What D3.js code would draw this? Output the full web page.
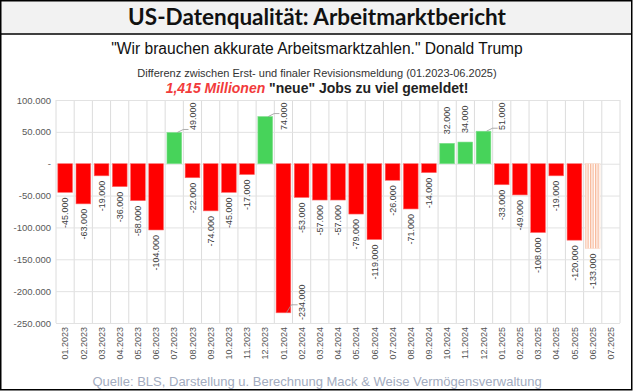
<!DOCTYPE html>
<html>
<head>
<meta charset="utf-8">
<script src="https://cdn.jsdelivr.net/npm/d3@7"></script>
<style>
  body { margin: 0; background: #fff; }
  svg text { font-family: "Liberation Sans", Arial, sans-serif; }
</style>
</head>
<body>
<div id="chart"></div>
<script>
// months (x axis)
var months = ["01.2023", "02.2023", "03.2023", "04.2023", "05.2023", "06.2023", "07.2023", "08.2023",
    "09.2023", "10.2023", "11.2023", "12.2023", "01.2024", "02.2024", "03.2024", "04.2024",
    "05.2024", "06.2024", "07.2024", "08.2024", "09.2024", "10.2024", "11.2024", "12.2024",
    "01.2025", "02.2025", "03.2025", "04.2025", "05.2025", "06.2025", "07.2025"];
// revision difference (jobs), null = no value yet
var revisions = [-45000, -63000, -19000, -36000, -58000, -104000, 49000, -22000,
    -74000, -45000, -17000, 74000, -234000, -53000, -57000, -57000,
    -79000, -119000, -26000, -71000, -14000, 32000, 34000, 51000,
    -33000, -49000, -108000, -19000, -120000, -133000, null];
// preliminary month (hatched)
var preliminary = ["06.2025"];
var yTicks = [100000, 50000, 0, -50000, -100000, -150000, -200000, -250000];

var W = 634, H = 392;
// german number format, plain hyphen as minus
var de = d3.formatLocale({ decimal: ",", thousands: ".", grouping: [3], currency: ["", ""], minus: "-" });
var fmt = function (v) {
    if (v === 0) return "-";
    return de.format(",")(v);
};

var svg = d3.select("#chart").append("svg")
    .attr("width", W)
    .attr("height", H);

// hatch pattern for the preliminary bar
var defs = svg.append("defs");
var pat = defs.append("pattern")
    .attr("id", "hatch")
    .attr("patternUnits", "userSpaceOnUse")
    .attr("width", 2.5)
    .attr("height", 4);
pat.append("rect").attr("width", 2.5).attr("height", 4).attr("fill", "#fff");
pat.append("rect").attr("width", 1.3).attr("height", 4).attr("fill", "#f8b99a");

// title band
svg.append("rect")
    .attr("x", 0.75).attr("y", 0.75)
    .attr("width", W - 3).attr("height", 33)
    .attr("fill", "#f2f2f2");
svg.append("text")
    .attr("x", 317).attr("y", 25)
    .attr("text-anchor", "middle")
    .style("font-family", "Lato, 'Open Sans', sans-serif")
    .style("font-weight", "bold")
    .style("font-size", "22.5px")
    .attr("fill", "#111")
    .text("US-Datenqualität: Arbeitmarktbericht");
svg.append("line")
    .attr("x1", 0).attr("x2", W - 2)
    .attr("y1", 34).attr("y2", 34)
    .attr("stroke", "#000").attr("stroke-width", 1.5);

// outer frame
svg.append("rect")
    .attr("x", 0.75).attr("y", 0.75)
    .attr("width", W - 3).attr("height", H - 3)
    .attr("fill", "none")
    .attr("stroke", "#000").attr("stroke-width", 1.5);

// headings
svg.append("text")
    .attr("x", 317).attr("y", 54)
    .attr("text-anchor", "middle")
    .style("font-size", "15.6px")
    .attr("fill", "#111")
    .text("\"Wir brauchen akkurate Arbeitsmarktzahlen.\" Donald Trump");
svg.append("text")
    .attr("x", 317).attr("y", 77)
    .attr("text-anchor", "middle")
    .style("font-size", "11px")
    .attr("fill", "#333")
    .text("Differenz zwischen Erst- und finaler Revisionsmeldung (01.2023-06.2025)");
var sub = svg.append("text")
    .attr("x", 317).attr("y", 93)
    .attr("text-anchor", "middle")
    .style("font-size", "14px")
    .style("font-weight", "bold");
sub.append("tspan").attr("fill", "#f23b3b").style("font-style", "italic").text("1,415 Millionen");
sub.append("tspan").attr("fill", "#222").text(" \"neue\" Jobs zu viel gemeldet!");

// scales
var x = d3.scaleBand().domain(months).range([56, 620]).paddingInner(0.19).paddingOuter(0.1);
var y = d3.scaleLinear().domain([-250000, 100000]).range([323, 100]);
var step = x.step();
var left = 56, right = 620;

// vertical grid lines (category borders)
svg.append("g").selectAll("line")
    .data(d3.range(months.length + 1))
    .join("line")
    .attr("x1", function (i) { return left + i * (right - left) / months.length; })
    .attr("x2", function (i) { return left + i * (right - left) / months.length; })
    .attr("y1", y(100000)).attr("y2", y(-250000))
    .attr("stroke", "#dcdcdc").attr("stroke-width", 1);

// horizontal grid + y labels
var yAxis = svg.append("g")
    .attr("transform", "translate(" + left + ",0)")
    .call(d3.axisLeft(y).tickValues(yTicks).tickFormat(fmt).tickSize(-(right - left)).tickPadding(5));
yAxis.select(".domain").remove();
yAxis.selectAll(".tick line").attr("stroke", "#e2e2e2");
yAxis.selectAll(".tick text")
    .style("font-family", "'Liberation Sans', Arial, sans-serif")
    .style("font-size", "9.5px")
    .attr("fill", "#595959");

// x labels
var xAxis = svg.append("g")
    .attr("transform", "translate(0," + y(-250000) + ")")
    .call(d3.axisBottom(x).tickSize(0));
xAxis.select(".domain").remove();
xAxis.selectAll(".tick text")
    .attr("transform", "rotate(-90)")
    .attr("text-anchor", "end")
    .attr("x", -4).attr("y", 0).attr("dy", "0.35em")
    .style("font-family", "'Liberation Sans', Arial, sans-serif")
    .style("font-size", "9px")
    .attr("fill", "#555");

// data
var data = months.map(function (m, i) {
    return { month: m, value: revisions[i], prelim: preliminary.indexOf(m) >= 0 };
}).filter(function (d) { return d.value !== null; });

function barColor(d) {
    if (d.prelim) return "url(#hatch)";
    return d.value >= 0 ? "#47d35a" : "#ff0000";
}

// bars
svg.append("g").selectAll("rect")
    .data(data)
    .join("rect")
    .attr("x", function (d) { return x(d.month); })
    .attr("width", x.bandwidth())
    .attr("y", function (d) { return y(Math.max(0, d.value)); })
    .attr("height", function (d) { return Math.abs(y(d.value) - y(0)); })
    .attr("fill", barColor)
    .attr("stroke", function (d) {
        if (d.prelim) return "#f9d8c6";
        return d.value >= 0 ? "#7fe08c" : "#ff6a6a";
    })
    .attr("stroke-width", 0.6);

// data labels (rotated); move aside with a leader line if they leave the plot
var labelSize = 9;
var labels = svg.append("g");
data.forEach(function (d) {
    var cx = x(d.month) + x.bandwidth() / 2;
    var yEnd = y(d.value);
    var txt = fmt(d.value);
    var len = txt.length * labelSize * 0.52;
    var pos = d.value >= 0;
    var anchorY = pos ? yEnd - 9 : yEnd + 5;
    var far = pos ? anchorY - len : anchorY + len;
    var lx = cx;
    var moved = false;
    if (pos && far < y.range()[1]) {
        moved = true;
        lx = cx + step;
        anchorY = y.range()[1] + 2 + len;
    } else if (!pos && far > y.range()[0]) {
        moved = true;
        lx = cx + step;
        anchorY = y.range()[0] - 3;
    }
    if (moved) {
        var bx = x(d.month) + x.bandwidth() * 0.7;
        labels.append("path")
            .attr("d", pos
                ? "M" + bx + "," + yEnd + "L" + (bx + 6) + "," + (yEnd - 3) + "L" + (lx - 4) + "," + (yEnd - 3)
                : "M" + bx + "," + yEnd + "L" + (bx + 5) + "," + (yEnd - 8) + "L" + (lx - 4) + "," + (yEnd - 8))
            .attr("fill", "none")
            .attr("stroke", "#999")
            .attr("stroke-width", 0.8);
    }
    labels.append("text")
        .attr("transform", "translate(" + lx + "," + anchorY + ") rotate(-90)")
        .attr("text-anchor", pos || moved ? "start" : "end")
        .attr("dy", "0.35em")
        .style("font-size", labelSize + "px")
        .attr("fill", "#404040")
        .text(txt);
});

// source
svg.append("text")
    .attr("x", 317).attr("y", 386)
    .attr("text-anchor", "middle")
    .style("font-size", "13px")
    .attr("fill", "#a3acc0")
    .text("Quelle: BLS, Darstellung u. Berechnung Mack & Weise Vermögensverwaltung");
</script>
</body>
</html>
